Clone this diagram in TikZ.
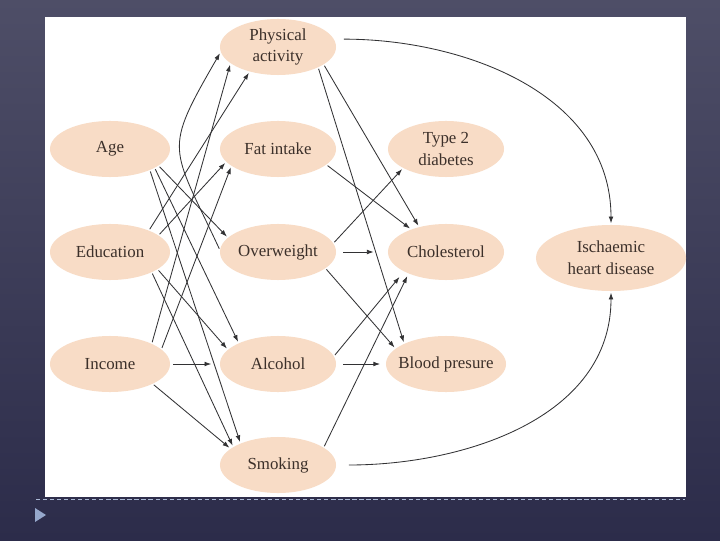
\documentclass[tikz,border=0pt]{standalone}
\usepackage{tikz}
\usepackage{fontspec}
\setmainfont{Liberation Serif}
\usetikzlibrary{shapes.geometric,arrows.meta}
\definecolor{peche}{RGB}{248,220,198}
\definecolor{texte}{RGB}{60,48,42}
\definecolor{trait}{RGB}{50,50,52}
\definecolor{fondhaut}{RGB}{78,78,103}
\definecolor{fondbas}{RGB}{44,44,74}
\definecolor{puce}{RGB}{150,168,204}

\begin{document}
\begin{tikzpicture}[x=0.025cm,y=0.025cm]
% Styles (MODIFIABLES)
\tikzstyle{fleche}=[->,>={Latex[length=4.8pt,width=3.4pt]},line width=0.6pt,draw=trait,shorten <=1pt,shorten >=1pt]
\tikzstyle{facteur}=[ellipse,fill=peche,text=texte,minimum width=2.9cm,minimum height=1.4cm,inner sep=0pt,align=center,font={\fontsize{12}{15.5}\selectfont}]
\tikzstyle{facteurlarge}=[facteur,minimum width=3cm]
\tikzstyle{maladie}=[facteur,minimum width=3.75cm,minimum height=1.65cm]
% Fond de la diapositive
\useasboundingbox (0,0) rectangle (720,540);
\shade[top color=fondhaut,bottom color=fondbas] (0,0) rectangle (720,540);
\fill[white] (45,43) rectangle (686,523);
\draw[puce!80!white,dash pattern=on 3pt off 2pt,line width=0.6pt] (36,41) -- (685,41);
\fill[puce] (35,32) -- (46,25) -- (35,18) -- cycle;
% Colonnes et lignes (MODIFIABLES)
\def\ColA{110}
\def\ColB{278}
\def\ColC{446}
\def\ColD{611}
\def\LigneA{493}
\def\LigneB{391}
\def\LigneC{288}
\def\LigneD{176}
\def\LigneE{75}
% Noeuds
\node[facteurlarge] (Age) at (\ColA,\LigneB) {Age};
\node[facteurlarge] (Edu) at (\ColA,\LigneC) {Education};
\node[facteurlarge] (Rev) at (\ColA,\LigneD) {Income};
\node[facteur] (Act) at (\ColB,\LigneA) {Physical\\activity};
\node[facteur] (Gras) at (\ColB,\LigneB) {Fat intake};
\node[facteur] (Poids) at (\ColB,\LigneC) {Overweight};
\node[facteur] (Alc) at (\ColB,\LigneD) {Alcohol};
\node[facteur] (Tabac) at (\ColB,\LigneE) {Smoking};
\node[facteur] (Diab) at (\ColC,\LigneB) {Type 2\\diabetes};
\node[facteur] (Chol) at (\ColC,\LigneC) {Cholesterol};
\node[facteur,inner xsep=-4pt,minimum width=3cm] (Tens) at (\ColC,\LigneD) {Blood presure};
\node[maladie] (Coeur) at (\ColD,282) {Ischaemic\\heart disease};
% Arcs : facteurs de gauche
\draw[fleche] (Age.-19) -- (Poids.164);
\draw[fleche] (Age.-23) -- (Alc.152);
\draw[fleche] (Age.-28) -- (Tabac.150);
\draw[fleche] (Edu.29) -- (Act.-139);
\draw[fleche] (Edu.19) -- (Gras.-166);
\draw[fleche] (Edu.-20) -- (Alc.164);
\draw[fleche] (Edu.-26) -- (Tabac.158);
\draw[fleche] (Rev.26) -- (Act.-161);
\draw[fleche] (Rev.16) -- (Gras.-160);
\draw[fleche,shorten <=2pt,shorten >=6pt] (Rev.east) -- (Alc.west);
\draw[fleche] (Rev.-25) -- (Tabac.161);
\draw[fleche] (Poids.178) to[out=115,in=240,looseness=1.5] (Act.185);
% Arcs : facteurs du milieu
\draw[fleche] (Act.-21) -- (Chol.137);
\draw[fleche] (Act.-27) -- (Tens.154);
\draw[fleche] (Gras.-18) -- (Chol.147);
\draw[fleche] (Poids.9) -- (Diab.-156);
\draw[fleche,shorten <=5pt,shorten >=10pt] (Poids.east) -- (Chol.west);
\draw[fleche] (Poids.-19) -- (Tens.163);
\draw[fleche,shorten >=5pt] (Alc.8) -- (Chol.-155);
\draw[fleche,shorten <=5pt,shorten >=4pt] (Alc.east) -- (Tens.west);
\draw[fleche,shorten >=2pt] (Tabac.21) -- (Chol.-150);
% Arcs vers la maladie
\draw[fleche,shorten <=7pt] (Act.8) to[out=0,in=90] (Coeur.north);
\draw[fleche,shorten <=9pt] (Tabac.east) to[out=0,in=-90] (Coeur.south);
\end{tikzpicture}
\end{document}
